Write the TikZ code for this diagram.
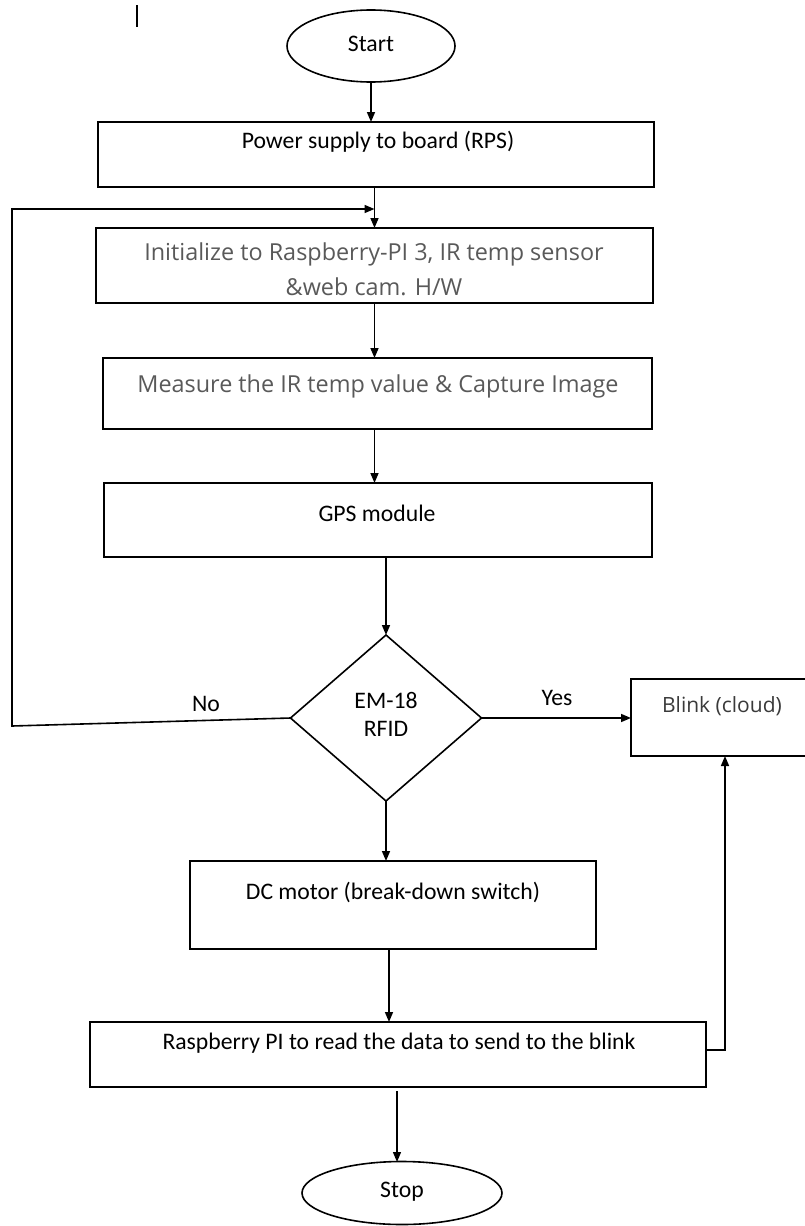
\documentclass[tikz,border=0pt]{standalone}
\usepackage{fontspec}
\setmainfont{Carlito}
\newfontfamily\grayfont{Open Sans}
\usetikzlibrary{shapes.geometric,arrows.meta}
\definecolor{txtgray}{HTML}{595959}
\definecolor{txtdark}{HTML}{3A3A3A}
\begin{document}
\begin{tikzpicture}[x=1pt,y=-1pt,
  line width=1.6pt,
  every node/.style={inner sep=0pt, outer sep=0pt},
  boxst/.style={draw, rectangle},
  ovalst/.style={draw, ellipse},
  decst/.style={draw, diamond},
  txt/.style={font=\fontsize{23.7}{28}\selectfont, text=black},
  gtxt/.style={font=\grayfont\fontsize{23.4}{35}\selectfont, text=txtgray, align=center},
  lbl/.style={font=\fontsize{23.7}{28}\selectfont},
  arr/.style={-{Triangle[length=10pt,width=8pt]}}
]
\useasboundingbox (0,0) rectangle (805,1226);
\clip (0,0) rectangle (805,1226);

% stray tick
\coordinate (t1) at (137,5);
\coordinate (t2) at (137,27);
\draw[line width=1.4pt] (t1) -- (t2);

% nodes
\node[ovalst, minimum width=168pt, minimum height=72pt] (start) at (371,46) {};
\node[txt] (startt) at (371,44) {Start};

\node[boxst, minimum width=556pt, minimum height=65pt] (power) at (376,154.5) {};
\node[txt] (powert) at (378,142) {Power supply to board (RPS)};

\node[boxst, minimum width=557pt, minimum height=75pt] (init) at (374.5,265.5) {};
\node[gtxt] (initt) at (374,269) {Initialize to Raspberry-PI 3, IR temp sensor\\ \&web cam. H/W};

\node[boxst, minimum width=549pt, minimum height=71pt] (meas) at (377.5,393.5) {};
\node[gtxt] (meast) at (378,386) {Measure the IR temp value \& Capture Image};

\node[boxst, minimum width=548pt, minimum height=74pt] (gps) at (378,520) {};
\node[txt] (gpst) at (377,513) {GPS module};

\node[decst, minimum width=191pt, minimum height=166pt] (dec) at (386,718) {};
\node[txt, align=center, font=\fontsize{23.7}{28}\selectfont] (dect) at (386,714) {EM-18\\RFID};

\node[boxst, minimum width=200pt, minimum height=77pt] (blink) at (731,717.5) {};
\node[font=\grayfont\fontsize{21}{25}\selectfont, text=txtdark] (blinkt) at (722,706) {Blink (cloud)};

\node[boxst, minimum width=406pt, minimum height=88pt] (dc) at (393,905) {};
\node[txt] (dct) at (393,892) {DC motor (break-down switch)};

\node[boxst, minimum width=616pt, minimum height=65pt] (rasp) at (398,1054.5) {};
\node[txt] (raspt) at (399,1043) {Raspberry PI to read the data to send to the blink};

\node[ovalst, minimum width=200pt, minimum height=63pt] (stop) at (402,1193) {};
\node[txt] (stopt) at (402,1192) {Stop};

% helper coordinates
\coordinate (lc1) at (12,726);
\coordinate (lc2) at (12,209);
\coordinate (rb) at (725,1050);

% connectors
\draw[arr] (start.south) -- (start.south |- power.north);
\draw[arr] (power.south -| init.north) -- (init.north);
\draw[arr] (init.south) -- (init.south |- meas.north);
\draw[arr] (meas.south -| init.south) -- (init.south |- gps.north);
\draw[arr] (dec.north |- gps.south) -- (dec.north);
\draw[arr] (dec.east) -- (dec.east -| blink.west);
\draw[arr] (dec.west) -- (lc1) -- (lc2) -- (init.north |- lc2);
\draw[arr] (dec.south) -- (dec.south |- dc.north);
\draw[arr] (389,949) -- (389,1022);
\draw[arr] (rasp.east |- rb) -- (rb) -- (rb |- blink.south);
\draw[arr, line width=1.3pt] (397,1091) -- (397,1162);

% labels
\node[lbl] (nolbl) at (206,704) {No};
\node[lbl] (yeslbl) at (557,698) {Yes};
\end{tikzpicture}
\end{document}
